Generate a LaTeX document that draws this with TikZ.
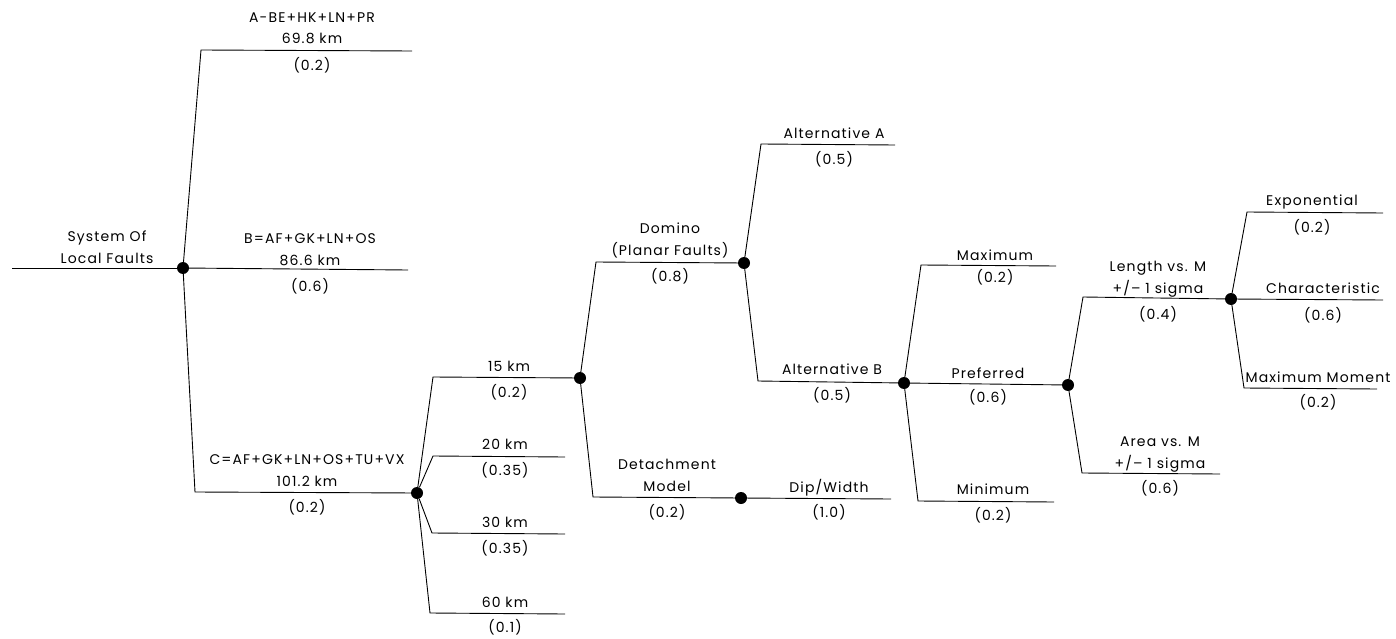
\documentclass[tikz,border=0pt]{standalone}
\usepackage{fontspec}
\setmainfont{Poppins}[LetterSpace=8]
\begin{document}
\begin{tikzpicture}[x=1pt,y=-1pt,
  dot/.style={circle,fill=black,inner sep=0pt,minimum size=12pt},
  br/.style={draw=black,line width=0.9pt},
  lbl/.style={anchor=base,inner sep=0pt,align=center,font=\fontsize{14}{21.5}\selectfont},
]
\useasboundingbox (0,0) rectangle (1396,639);
% decision nodes
\node[dot] (n0) at (183,268) {};
\node[dot] (nC) at (417,493) {};
\node[dot] (n15) at (580,378) {};
\node[dot] (nD) at (744,263) {};
\node[dot] (nDet) at (741,498) {};
\node[dot] (nB) at (904,383) {};
\node[dot] (nP) at (1068,385) {};
\node[dot] (nL) at (1231,299) {};
% coordinates
\coordinate (r0) at (12,268);
\coordinate (cA) at (201,50);   \coordinate (eA) at (412,51);
\coordinate (eB) at (408,270);
\coordinate (cC) at (195,492);
\coordinate (c15) at (433,377);
\coordinate (c20) at (433,456); \coordinate (e20) at (565,457);
\coordinate (c30) at (432,533); \coordinate (e30) at (565,534);
\coordinate (c60) at (430,613); \coordinate (e60) at (565,614);
\coordinate (cDo) at (596,262);
\coordinate (cDe) at (593,497);
\coordinate (eDW) at (891,499);
\coordinate (cAA) at (761,144); \coordinate (eAA) at (895,145);
\coordinate (cAB) at (758,381);
\coordinate (cMx) at (921,265); \coordinate (eMx) at (1056,266);
\coordinate (cMn) at (918,501); \coordinate (eMn) at (1054,502);
\coordinate (cLe) at (1083,297);
\coordinate (cAr) at (1082,473); \coordinate (eAr) at (1220,474);
\coordinate (cEx) at (1247,212); \coordinate (eEx) at (1383,213);
\coordinate (eCh) at (1383,300);
\coordinate (cMM) at (1244,388); \coordinate (eMM) at (1377,389);
% branches
\draw[br] (r0) -- (n0);
\draw[br] (n0) -- (cA) -- (eA);
\draw[br] (n0) -- (eB);
\draw[br] (n0) -- (cC) -- (nC);
\draw[br] (nC) -- (c15) -- (n15);
\draw[br] (nC) -- (c20) -- (e20);
\draw[br] (nC) -- (c30) -- (e30);
\draw[br] (nC) -- (c60) -- (e60);
\draw[br] (n15) -- (cDo) -- (nD);
\draw[br] (n15) -- (cDe) -- (nDet);
\draw[br] (nDet) -- (eDW);
\draw[br] (nD) -- (cAA) -- (eAA);
\draw[br] (nD) -- (cAB) -- (nB);
\draw[br] (nB) -- (cMx) -- (eMx);
\draw[br] (nB) -- (nP);
\draw[br] (nB) -- (cMn) -- (eMn);
\draw[br] (nP) -- (cLe) -- (nL);
\draw[br] (nP) -- (cAr) -- (eAr);
\draw[br] (nL) -- (cEx) -- (eEx);
\draw[br] (nL) -- (eCh);
\draw[br] (nL) -- (cMM) -- (eMM);
% labels
\node[lbl] (tRoot) at (107,263) {System Of\\Local Faults};
\node[lbl] (tA) at (312,44) {A-BE+HK+LN+PR\\69.8 km};
\node[lbl] (pA) at (312,71) {(0.2)};
\node[lbl] (tB) at (310,265) {B=AF+GK+LN+OS\\86.6 km};
\node[lbl] (pB) at (310,291) {(0.6)};
\node[lbl] (tC) at (307,486) {C=AF+GK+LN+OS+TU+VX\\101.2 km};
\node[lbl] (pC) at (307,512) {(0.2)};
\node[lbl] (t15) at (509,371) {15 km};
\node[lbl] (p15) at (509,397) {(0.2)};
\node[lbl] (t20) at (505,449) {20 km};
\node[lbl] (p20) at (505,475) {(0.35)};
\node[lbl] (t30) at (505,527) {30 km};
\node[lbl] (p30) at (505,553) {(0.35)};
\node[lbl] (t60) at (505,607) {60 km};
\node[lbl] (p60) at (505,632) {(0.1)};
\node[lbl] (tDo) at (670,255) {Domino\\(Planar Faults)};
\node[lbl] (pDo) at (670,281) {(0.8)};
\node[lbl] (tDe) at (667,491) {Detachment\\Model};
\node[lbl] (pDe) at (667,517) {(0.2)};
\node[lbl] (tDW) at (829,492) {Dip/Width};
\node[lbl] (pDW) at (829,517) {(1.0)};
\node[lbl] (tAA) at (834,139) {Alternative A};
\node[lbl] (pAA) at (834,165) {(0.5)};
\node[lbl] (tAB) at (832,374) {Alternative B};
\node[lbl] (pAB) at (832,400) {(0.5)};
\node[lbl] (tMx) at (995,260) {Maximum};
\node[lbl] (pMx) at (995,282) {(0.2)};
\node[lbl] (tPr) at (988,378) {Preferred};
\node[lbl] (pPr) at (988,402) {(0.6)};
\node[lbl] (tMn) at (993,494) {Minimum};
\node[lbl] (pMn) at (993,520) {(0.2)};
\node[lbl] (tLe) at (1158,293) {Length vs. M\\+/-- 1 sigma};
\node[lbl] (pLe) at (1158,319) {(0.4)};
\node[lbl] (tAr) at (1160,468) {Area vs. M\\+/-- 1 sigma};
\node[lbl] (pAr) at (1160,493) {(0.6)};
\node[lbl] (tEx) at (1312,205) {Exponential};
\node[lbl] (pEx) at (1312,232) {(0.2)};
\node[lbl] (tCh) at (1323,293) {Characteristic};
\node[lbl] (pCh) at (1323,320) {(0.6)};
\node[lbl] (tMM) at (1318,382) {Maximum Moment};
\node[lbl] (pMM) at (1318,407) {(0.2)};
\end{tikzpicture}
\end{document}
